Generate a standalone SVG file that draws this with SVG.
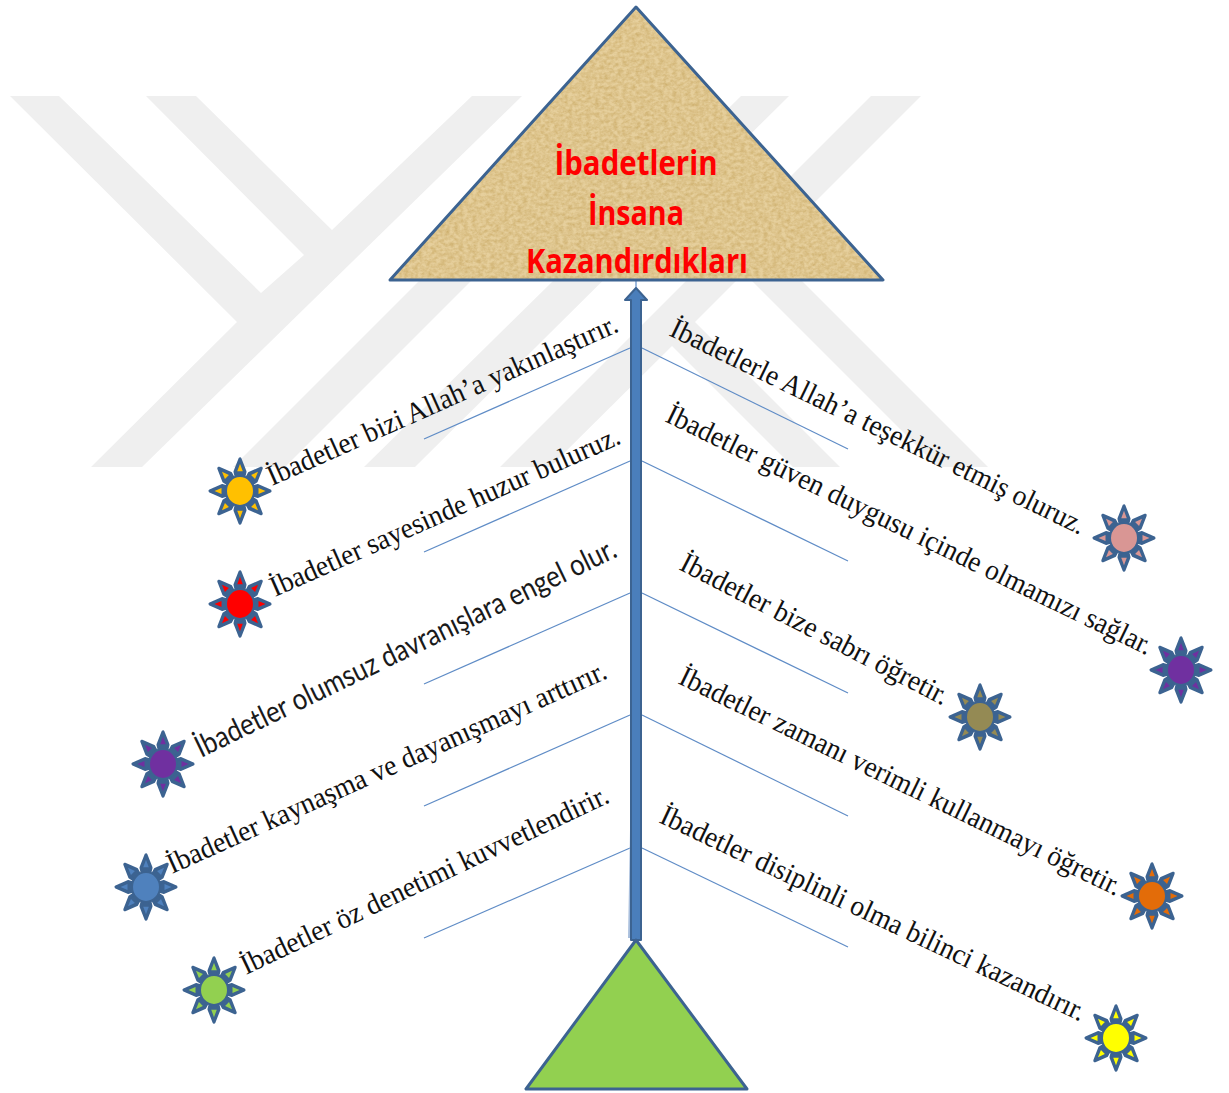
<svg xmlns="http://www.w3.org/2000/svg" width="1229" height="1093" viewBox="0 0 1229 1093">
<style>
.wm{fill:#efefef}
.lbl{font-family:"Liberation Serif","Times New Roman",serif;font-size:29px;fill:#111}
.sans{font-family:Lato,"Noto Sans",sans-serif;font-size:30px;fill:#1a1a1a}
.title{font-family:"Open Sans","Noto Sans",sans-serif;font-size:34px;font-weight:700;fill:#ff0000;text-anchor:middle}
.bone{stroke:#5f8cc6;stroke-width:1.2;fill:none}
.edge{fill:none;stroke:#3c6391;stroke-width:3;stroke-linejoin:round}
.ray{fill:#3c6391;stroke:#3c6391;stroke-width:3;stroke-linejoin:round}
</style>
<defs>
<filter id="paper" x="0" y="0" width="1" height="1" color-interpolation-filters="sRGB">
<feTurbulence type="fractalNoise" baseFrequency="0.22 0.3" numOctaves="3" seed="4" result="n"/>
<feColorMatrix in="n" type="matrix" values="0 0 0 0 0.80  0 0 0 0 0.68  0 0 0 0 0.42  1.5 0 0 0 -0.45" result="t"/>
<feComposite in="t" in2="SourceGraphic" operator="in" result="c"/>
<feMerge><feMergeNode in="SourceGraphic"/><feMergeNode in="c"/></feMerge>
</filter>
<g id="ray">
<polygon class="ray" points="0,-30 -5,-18 -3.5,-12 3.5,-12 5,-18"/>
<polygon points="0,-25.5 -2.8,-18.5 2.8,-18.5"/>
</g>
<g id="sun">
<g transform="scale(1,1.07)">
<use href="#ray"/>
<use href="#ray" transform="rotate(45)"/>
<use href="#ray" transform="rotate(90)"/>
<use href="#ray" transform="rotate(135)"/>
<use href="#ray" transform="rotate(180)"/>
<use href="#ray" transform="rotate(225)"/>
<use href="#ray" transform="rotate(270)"/>
<use href="#ray" transform="rotate(315)"/>
<ellipse rx="14" ry="14" stroke="#3c6391" stroke-width="2"/>
</g>
</g>
</defs>

<g id="watermark">
<polygon class="wm" points="10,96 59,96 261,293 304,255 146,96 196,96 332,230 472,96 522,96 142,467 91,467 237,322"/>
<polygon class="wm" points="420,280 472,280 285,467 233,467"/>
<polygon class="wm" points="741,96 789,96 415,467 364,467"/>
<polygon class="wm" points="871,96 921,96 695,322 840,467 793,467 672,346 550,467 500,467"/>
<polygon class="wm" points="744,273 769,248 988,467 938,467"/>
</g>

<g id="connectors">
<line class="bone" x1="630" y1="348" x2="424" y2="439"/>
<line class="bone" x1="630" y1="461" x2="424" y2="552"/>
<line class="bone" x1="630" y1="593" x2="424" y2="684"/>
<line class="bone" x1="630" y1="715" x2="424" y2="806"/>
<line class="bone" x1="630" y1="848" x2="424" y2="938"/>
<line class="bone" x1="642" y1="348" x2="848" y2="449"/>
<line class="bone" x1="642" y1="461" x2="848" y2="561"/>
<line class="bone" x1="642" y1="593" x2="848" y2="693"/>
<line class="bone" x1="642" y1="715" x2="848" y2="816"/>
<line class="bone" x1="642" y1="848" x2="848" y2="947"/>
<line x1="636" y1="280" x2="636" y2="289" stroke="#5f8cc6" stroke-width="1.2"/>
<polygon points="632,400 630,830 628,938 630,938 633,830" fill="#a9bfdd"/>
<polygon points="636,288 647,300 641,300 641,940 631,940 631,300 625,300" fill="#4a7ebb" stroke="#3c6391" stroke-width="2" stroke-linejoin="round"/>
</g>

<g id="head">
<polygon points="390,280 636,7 883,280" fill="#e6cf9c" filter="url(#paper)"/>
<polygon class="edge" points="390,280 636,7 883,280"/>
<text class="title" x="636" y="175" textLength="163" lengthAdjust="spacingAndGlyphs">İbadetlerin</text>
<text class="title" x="636" y="225" textLength="96" lengthAdjust="spacingAndGlyphs">İnsana</text>
<text class="title" x="637" y="273" textLength="222" lengthAdjust="spacingAndGlyphs">Kazandırdıkları</text>
</g>

<g id="tail">
<polygon points="636,940 526,1089 747,1089" fill="#92d050"/>
<polygon class="edge" points="636,940 526,1089 747,1089"/>
</g>

<g id="l1"><use href="#sun" x="240" y="491" fill="#ffc000"/><text class="lbl" transform="translate(272 486) rotate(-24)" textLength="381" lengthAdjust="spacingAndGlyphs">İbadetler bizi Allah’a yakınlaştırır.</text></g>
<g id="l2"><use href="#sun" x="240" y="604" fill="#ff0000"/><text class="lbl" transform="translate(275 597) rotate(-23.9)" textLength="380" lengthAdjust="spacingAndGlyphs">İbadetler sayesinde huzur buluruz.</text></g>
<g id="l3"><use href="#sun" x="163" y="764" fill="#7030a0"/><text class="sans" transform="translate(201 758) rotate(-25.8)" textLength="464" lengthAdjust="spacingAndGlyphs">İbadetler olumsuz davranışlara engel olur.</text></g>
<g id="l4"><use href="#sun" x="146" y="887" fill="#4f81bd"/><text class="lbl" transform="translate(172 874) rotate(-24.2)" textLength="479" lengthAdjust="spacingAndGlyphs">İbadetler kaynaşma ve dayanışmayı arttırır.</text></g>
<g id="l5"><use href="#sun" x="214" y="990" fill="#92d050"/><text class="lbl" transform="translate(246 975) rotate(-25.4)" textLength="404" lengthAdjust="spacingAndGlyphs">İbadetler öz denetimi kuvvetlendirir.</text></g>
<g id="r1"><use href="#sun" x="1124" y="538" fill="#d99694"/><text class="lbl" transform="translate(668 335) rotate(25.9)" textLength="458" lengthAdjust="spacingAndGlyphs">İbadetlerle Allah’a teşekkür etmiş oluruz.</text></g>
<g id="r2"><use href="#sun" x="1181" y="670" fill="#7030a0"/><text class="lbl" transform="translate(664 421) rotate(25.9)" textLength="537" lengthAdjust="spacingAndGlyphs">İbadetler güven duygusu içinde olmamızı sağlar.</text></g>
<g id="r3"><use href="#sun" x="980" y="717" fill="#948a54"/><text class="lbl" transform="translate(678 569) rotate(27.3)" textLength="298" lengthAdjust="spacingAndGlyphs">İbadetler bize sabrı öğretir.</text></g>
<g id="r4"><use href="#sun" x="1152" y="896" fill="#e36c09"/><text class="lbl" transform="translate(677 683) rotate(25.9)" textLength="488" lengthAdjust="spacingAndGlyphs">İbadetler zamanı verimli kullanmayı öğretir.</text></g>
<g id="r5"><use href="#sun" x="1116" y="1038" fill="#ffff00"/><text class="lbl" transform="translate(658 822) rotate(25.3)" textLength="467" lengthAdjust="spacingAndGlyphs">İbadetler disiplinli olma bilinci kazandırır.</text></g>
</svg>
